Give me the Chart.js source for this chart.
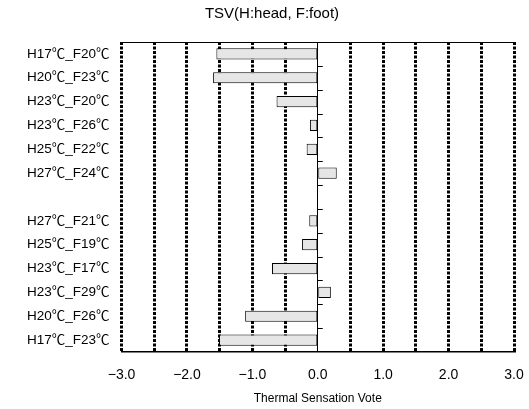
<!DOCTYPE html>
<html>
<head>
<meta charset="utf-8">
<script src="https://cdn.jsdelivr.net/npm/chart.js@4"></script>
<style>
  html, body { margin: 0; padding: 0; background: #fff; }
  #wrap { width: 529px; height: 409px; }
</style>
</head>
<body>
<div id="wrap"><canvas id="tsvChart"></canvas></div>
<script>
// categorias (la fila vacia separa los dos grupos)
const categorias = [
  "H17℃_F20℃", "H20℃_F23℃", "H23℃_F20℃", "H23℃_F26℃", "H25℃_F22℃", "H27℃_F24℃",
  "",
  "H27℃_F21℃", "H25℃_F19℃", "H23℃_F17℃", "H23℃_F29℃", "H20℃_F26℃", "H17℃_F23℃"
];
const valoresTSV = [-1.55, -1.60, -0.63, -0.12, -0.17, 0.29, null, -0.13, -0.24, -0.70, 0.20, -1.11, -1.51];
const ejeMin = -3, ejeMax = 3, ejePaso = 0.5;

const fuente = "'Liberation Sans', Arial, 'Noto Sans CJK JP', sans-serif";

// marcas cortas sobre la linea de cero y borde superior
const marcasCero = {
  id: 'marcasCero',
  afterDatasetsDraw(chart) {
    const { ctx, chartArea, scales } = chart;
    const x0 = scales.x.getPixelForValue(0);
    ctx.save();
    ctx.strokeStyle = '#000';
    ctx.lineWidth = 1;
    ctx.beginPath();
    for (let i = 0; i < categorias.length - 1; i++) {
      const y = Math.round(scales.y.getPixelForValue(i + 0.5)) + 0.5;
      ctx.moveTo(x0, y);
      ctx.lineTo(x0 + 5, y);
    }
    ctx.moveTo(chartArea.left, chartArea.top + 0.5);
    ctx.lineTo(chartArea.right, chartArea.top + 0.5);
    ctx.stroke();
    ctx.restore();
  }
};

new Chart(document.getElementById('tsvChart'), {
  type: 'bar',
  data: {
    labels: categorias,
    datasets: [{
      data: valoresTSV,
      backgroundColor: '#e6e6e6',
      borderColor: '#000',
      borderWidth: 1,
      borderSkipped: false,
      categoryPercentage: 1,
      barPercentage: 0.47
    }]
  },
  plugins: [marcasCero],
  options: {
    indexAxis: 'y',
    responsive: true,
    maintainAspectRatio: false,
    animation: false,
    layout: { padding: { left: 15, right: 0, top: 0, bottom: 0 } },
    plugins: {
      legend: { display: false },
      tooltip: { enabled: false },
      title: {
        display: true,
        text: 'TSV(H:head, F:foot)',
        color: '#000',
        font: { family: fuente, size: 15, weight: 'normal' },
        padding: { top: 5, bottom: 19 }
      }
    },
    scales: {
      x: {
        min: ejeMin,
        max: ejeMax,
        afterFit: s => { s.height = 57; s.paddingRight = 15; },
        ticks: {
          stepSize: ejePaso,
          color: '#000',
          padding: 15,
          maxRotation: 0,
          autoSkip: false,
          font: { family: fuente, size: 14 },
          callback: v => Number.isInteger(v) ? (v < 0 ? '\u2212' + Math.abs(v).toFixed(1) : v.toFixed(1)) : ''
        },
        grid: {
          drawTicks: false,
          color: '#000',
          lineWidth: c => (c.tick && c.tick.value === 0) ? 1 : 3
        },
        border: {
          display: true,
          color: '#000',
          width: 1.5,
          dash: c => (c.tick && c.tick.value === 0) ? [] : [3, 1.5]
        },
        title: {
          display: true,
          text: 'Thermal Sensation Vote',
          color: '#000',
          font: { family: fuente, size: 12 },
          padding: { top: 9, bottom: 3 }
        }
      },
      y: {
        ticks: {
          color: '#000',
          padding: 12,
          autoSkip: false,
          font: { family: fuente, size: 13.5 }
        },
        grid: { display: false, drawTicks: false },
        border: { display: false }
      }
    }
  }
});
</script>
</body>
</html>
